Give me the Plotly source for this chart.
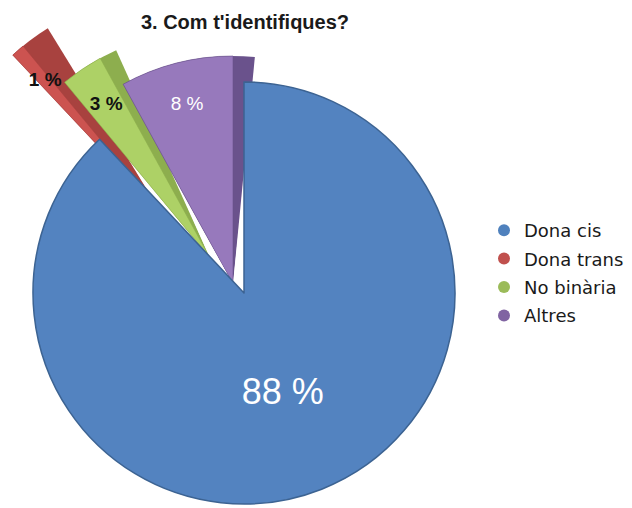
import math
import plotly.graph_objects as go

# ---- data ----
categories = ["Dona cis", "Dona trans", "No binària", "Altres"]
values = [88, 1, 3, 8]
value_labels = [f"{v} %" for v in values]
title_text = "3. Com t'identifiques?"

# ---- styles ----
OFF = 8                      # page margin around the figure
W, H = 632 - OFF, 508 - OFF
legend_colors = ["#4f81bd", "#c0504d", "#9bbb59", "#8064a2"]
slice_colors = ["#5383c0", "#cc5350", "#add166", "#9779bc"]
side_colors = ["#3c6392", "#a8423f", "#8dae4e", "#6a528c"]
label_colors = ["white", "#111111", "#111111", "white"]
label_weights = ["normal", "bold", "bold", "normal"]
FONT = "Liberation Sans"
CLEAR = "rgba(0,0,0,0)"

# main pie placement (window px): centre and radius
main_c, main_r = (244, 293), 211
# exploded slices: vertex (window px), radius (px), side-face depth (deg)
explode = {1: ((162, 214), 218, 8.0), 2: ((210, 258), 228, 4.5), 3: ((233, 284), 228, 5.5)}

total = sum(values)
cum = [0]
for v in values:
    cum.append(cum[-1] + v)
start_deg = [c / total * 360 for c in cum[:-1]]   # clockwise from top
end_deg = [c / total * 360 for c in cum[1:]]

fig = go.Figure()


def sector_bbox(a0, a1):
    xs, ys = [0.0], [0.0]
    for a in (a0, a1):
        xs.append(math.cos(math.radians(a)))
        ys.append(math.sin(math.radians(a)))
    for k in range(-4, 9):
        a = 90 * k
        if a0 <= a <= a1:
            xs.append(math.cos(math.radians(a)))
            ys.append(math.sin(math.radians(a)))
    return min(xs), min(ys), max(xs), max(ys)


PAD = 0.6
RMAX = 1.01
for n, (i, ((wx, wy), rw, side)) in enumerate(explode.items()):
    vx, vy = wx - OFF, wy - OFF
    # screen angles (ccw from east)
    s0 = 90 - end_deg[i] - side - PAD
    s1 = 90 - start_deg[i] + PAD
    s0m = s0 % 360
    s1m = s0m + (s1 - s0)
    x0, y0, x1, y1 = sector_bbox(s0m, s1m)
    rp = rw * RMAX
    lim = [vx / max(-x0, 1e-9), (W - vx) / max(x1, 1e-9),
           vy / max(y1, 1e-9), (H - vy) / max(-y0, 1e-9)]
    rp = min(rp, min(lim) - 0.5)
    dx = [max(0.0, (vx + rp * x0) / W), min(1.0, (vx + rp * x1) / W)]
    dy = [max(0.0, 1 - (vy - rp * y0) / H), min(1.0, 1 - (vy - rp * y1) / H)]
    pname = "polar" if n == 0 else f"polar{n + 1}"
    mid = (start_deg[i] + end_deg[i]) / 2
    span = end_deg[i] - start_deg[i]
    # side face (3-D look): spans the slice plus the depth, behind the front face
    fig.add_trace(go.Barpolar(
        r=[1], theta=[mid + side / 2], width=[span + side],
        marker=dict(color=side_colors[i], line=dict(width=0)),
        subplot=pname, showlegend=False, hoverinfo="skip"))
    # front face
    fig.add_trace(go.Barpolar(
        r=[1], theta=[mid], width=[span],
        marker=dict(color=slice_colors[i], line=dict(color=side_colors[i], width=0.6)),
        subplot=pname, showlegend=False, hoverinfo="skip"))
    fig.add_trace(go.Scatterpolar(
        r=[0.81], theta=[mid], mode="text", text=[value_labels[i]],
        textfont=dict(family=FONT, size=19, color=label_colors[i], weight=label_weights[i]),
        subplot=pname, showlegend=False, hoverinfo="skip", cliponaxis=False))
    fig.update_layout(**{pname: dict(
        domain=dict(x=dx, y=dy), sector=[s0m, s1m], bgcolor=CLEAR,
        radialaxis=dict(visible=False, range=[0, RMAX], showgrid=False),
        angularaxis=dict(visible=False, rotation=90, direction="clockwise", showgrid=False),
    )})

# main pie (only the non-exploded slice is visible)
cx, cy = main_c[0] - OFF, main_c[1] - OFF
fig.add_trace(go.Pie(
    labels=categories, values=values, sort=False, direction="clockwise", rotation=0,
    marker=dict(colors=[slice_colors[0], CLEAR, CLEAR, CLEAR],
                line=dict(color=[side_colors[0], CLEAR, CLEAR, CLEAR], width=[1.5, 0, 0, 0])),
    text=[value_labels[0], "", "", ""], textinfo="text", textposition="inside",
    insidetextfont=dict(family=FONT, size=36, color="white"),
    domain=dict(x=[(cx - main_r) / W, (cx + main_r) / W],
                y=[1 - (cy + main_r) / H, 1 - (cy - main_r) / H]),
    showlegend=False, hoverinfo="skip"))

# legend entries
for k, (cat, col) in enumerate(zip(categories, legend_colors)):
    fig.add_trace(go.Scatter(x=[None], y=[None], mode="markers", name=cat,
                             legendgroup=f"g{k}",
                             marker=dict(symbol="circle", size=12, color=col),
                             hoverinfo="skip"))

fig.update_layout(
    width=W, height=H, margin=dict(l=0, r=0, t=0, b=0),
    paper_bgcolor="white", plot_bgcolor="white",
    xaxis=dict(visible=False), yaxis=dict(visible=False),
    title=dict(text=f"<b>{title_text}</b>", x=(245 - OFF) / W, xanchor="center",
               y=1 - (22 - OFF) / H, yanchor="middle",
               font=dict(family=FONT, size=20, color="#1a1a1a")),
    legend=dict(x=(484 - OFF) / W, xanchor="left", y=1 - (212 - OFF) / H, yanchor="top",
                font=dict(family="DejaVu Sans", size=18, color="#1a1a1a"),
                traceorder="grouped", tracegroupgap=2,
                bgcolor=CLEAR, itemsizing="constant"),
    showlegend=True,
)

fig.write_html("out.html")
